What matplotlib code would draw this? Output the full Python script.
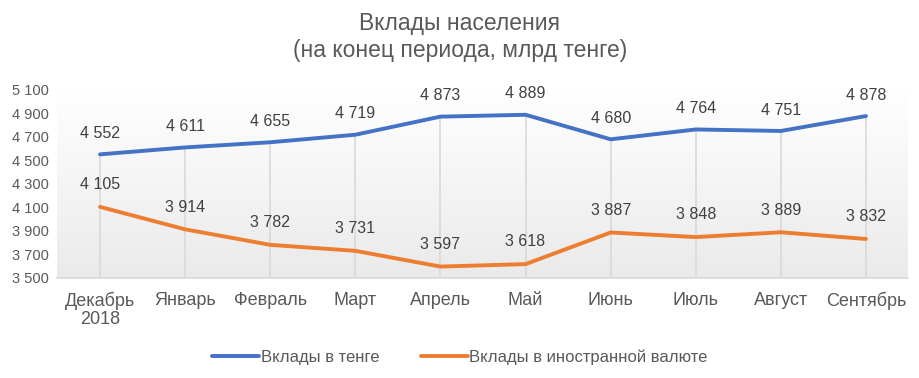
import numpy as np
import matplotlib
matplotlib.use("Agg")
from matplotlib import pyplot as plt

# data
months = ["Декабрь\n2018", "Январь", "Февраль", "Март", "Апрель", "Май",
          "Июнь", "Июль", "Август", "Сентябрь"]
tenge = [4552, 4611, 4655, 4719, 4873, 4889, 4680, 4764, 4751, 4878]
foreign = [4105, 3914, 3782, 3731, 3597, 3618, 3887, 3848, 3889, 3832]
yticks = [3500, 3700, 3900, 4100, 4300, 4500, 4700, 4900, 5100]

plt.rcParams['font.family'] = ['Liberation Sans', 'DejaVu Sans']
blue = '#4472C4'
orange = '#ED7D31'
txt = '#595959'

def fmt(v):
	return f"{v:,}".replace(",", " ")

fig = plt.figure(figsize=(9.2, 3.78), dpi=100)
ax = fig.add_axes([0.0625, 0.2646, 0.925, 0.4974])
x = np.arange(len(months))
ax.set_xlim(-0.5, len(months) - 0.5)
ax.set_ylim(3500, 5100)

# gradient plot area
grad = np.linspace(1, 0, 256).reshape(-1, 1)
ax.imshow(grad, extent=(-0.5, len(months) - 0.5, 3500, 5100), aspect='auto',
	cmap=matplotlib.colors.LinearSegmentedColormap.from_list('g', ['#EAEAEA', '#FFFFFF']),
	zorder=0)

# drop lines
tops = np.maximum(tenge, foreign)
ax.vlines(x, 3500, tops, color='#D9D9D9', lw=1.2, zorder=1)

ax.plot(x, tenge, color=blue, lw=2.8, label='Вклады в тенге', zorder=3, solid_capstyle='round')
ax.plot(x, foreign, color=orange, lw=2.8, label='Вклады в иностранной валюте', zorder=3, solid_capstyle='round')

for xi, v in zip(x, tenge):
	ax.annotate(fmt(v), (xi, v), xytext=(0, 15), textcoords='offset points',
		ha='center', va='center', fontsize=11.5, color='#404040')
for xi, v in zip(x, foreign):
	ax.annotate(fmt(v), (xi, v), xytext=(0, 16), textcoords='offset points',
		ha='center', va='center', fontsize=11.5, color='#404040')

ax.set_yticks(yticks)
ax.set_yticklabels([fmt(v) for v in yticks], fontsize=10.5, color=txt)
ax.set_xticks(x)
ax.set_xticklabels(months, fontsize=13, color=txt, linespacing=1.1)
ax.tick_params(axis='both', length=0)
ax.tick_params(axis='x', pad=10)
ax.tick_params(axis='y', pad=6)
for s in ['top', 'right', 'left']:
	ax.spines[s].set_visible(False)
ax.spines['bottom'].set_color('#D9D9D9')
ax.spines['bottom'].set_linewidth(1.2)

fig.text(0.5, 0.902, "Вклады населения\n(на конец периода, млрд тенге)", ha='center', va='center',
	fontsize=16.5, color=txt, linespacing=1.25)

leg = fig.legend(loc='center', bbox_to_anchor=(0.5, 0.055), ncol=2, frameon=False,
	fontsize=12, handlelength=2.8, handletextpad=0.1, columnspacing=2.5)
for t in leg.get_texts():
	t.set_color(txt)

fig.savefig("out.png", dpi=100)
